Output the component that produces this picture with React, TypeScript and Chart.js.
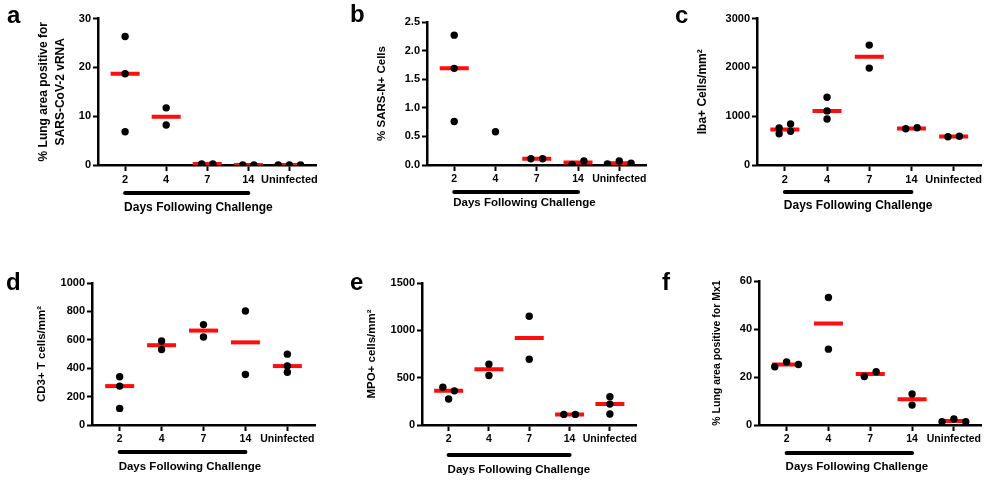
import React, { useEffect, useRef } from "react";
import { Chart, registerables } from "chart.js";

Chart.register(...registerables);

// ---------------- DATA ----------------
const CATEGORIES = ["2", "4", "7", "14", "Uninfected"];
const DAYS_LABEL = "Days Following Challenge";

// a: % lung area positive for SARS-CoV-2 vRNA
const A_VALUES = [[26.3, 18.7, 6.8], [11.7, 8.2], [0.2, 0.2], [0, 0], [0, 0, 0]];
const A_MEDIANS = [18.7, 9.9, 0.2, 0, 0];
const A_YTICKS = [0, 10, 20, 30];
const A_YLABELS = ["0", "10", "20", "30"];

// b: % SARS-N+ cells
const B_VALUES = [[2.27, 1.69, 0.76], [0.58], [0.11, 0.11], [0.01, 0.07], [0.02, 0.07, 0.03]];
const B_MEDIANS = [1.69, null, 0.11, 0.045, 0.03];
const B_YTICKS = [0, 0.5, 1.0, 1.5, 2.0, 2.5];
const B_YLABELS = ["0.0", "0.5", "1.0", "1.5", "2.0", "2.5"];

// c: Iba+ cells/mm2
const C_VALUES = [[760, 840, 640, 690], [1387, 1108, 942], [2455, 1984], [743, 763], [577, 590]];
const C_MEDIANS = [725, 1108, 2216, 750, 585];
const C_YTICKS = [0, 1000, 2000, 3000];
const C_YLABELS = ["0", "1000", "2000", "3000"];

// d: CD3+ T cells/mm2
const D_VALUES = [[340, 274, 117], [592, 532], [707, 620], [803, 356], [499, 415, 372]];
const D_MEDIANS = [274, 562, 665, 582, 415];
const D_YTICKS = [0, 200, 400, 600, 800, 1000];
const D_YLABELS = ["0", "200", "400", "600", "800", "1000"];

// e: MPO+ cells/mm2
const E_VALUES = [[400, 361, 274], [643, 523], [1149, 695], [112, 112], [299, 221, 116]];
const E_MEDIANS = [362, 590, 920, 112, 221];
const E_YTICKS = [0, 500, 1000, 1500];
const E_YLABELS = ["0", "500", "1000", "1500"];

// f: % lung area positive for Mx1
const F_VALUES = [[24.3, 26.3, 25.2], [53.1, 31.6], [20.2, 22.2], [12.9, 8.3], [1.4, 2.5, 1.4]];
const F_MEDIANS = [25.2, 42.3, 21.3, 10.7, 1.7];
const F_YTICKS = [0, 20, 40, 60];
const F_YLABELS = ["0", "20", "40", "60"];

// ---------------- LAYOUT ----------------
const X_MIN = -0.66;
const X_MAX = 4.66;
const FONT = "'Liberation Sans', Arial, Helvetica, sans-serif";
const RED = "#ff0d0d";

type Panel = {
  letter: string;
  values: number[][];
  medians: (number | null)[];
  yTicks: number[];
  yLabels: string[];
  yTitle: string | string[];
  canvas: { l: number; t: number; w: number; h: number };
  plot: { l: number; t: number; r: number; b: number };
  letterPos: [number, number];
  titleSize: number;
  titleLH: number;
  titleCenter: number;
  barOff: number;
  textOff: number;
  daysSize: number;
  xTickSize: number;
};

const PANELS: Panel[] = [
  {
    letter: "a", values: A_VALUES, medians: A_MEDIANS, yTicks: A_YTICKS, yLabels: A_YLABELS,
    yTitle: ["% Lung area positive for", "SARS-CoV-2 vRNA"],
    canvas: { l: 0, t: 0, w: 335, h: 240 }, plot: { l: 98, t: 16, r: 333, b: 165 },
    letterPos: [7, 23], titleSize: 12, titleLH: 1.35, titleCenter: 44,
    barOff: 28, textOff: 43, daysSize: 12, xTickSize: 11,
  },
  {
    letter: "b", values: B_VALUES, medians: B_MEDIANS, yTicks: B_YTICKS, yLabels: B_YLABELS,
    yTitle: "% SARS-N+ Cells",
    canvas: { l: 335, t: 0, w: 330, h: 240 }, plot: { l: 427, t: 22, r: 650, b: 165 },
    letterPos: [350, 22], titleSize: 11.5, titleLH: 1.2, titleCenter: 382,
    barOff: 27, textOff: 38, daysSize: 11.5, xTickSize: 10.5,
  },
  {
    letter: "c", values: C_VALUES, medians: C_MEDIANS, yTicks: C_YTICKS, yLabels: C_YLABELS,
    yTitle: "Iba+ Cells/mm\u00B2",
    canvas: { l: 665, t: 0, w: 335, h: 240 }, plot: { l: 757, t: 15, r: 993, b: 165 },
    letterPos: [675, 23], titleSize: 12, titleLH: 1.2, titleCenter: 703,
    barOff: 27, textOff: 41, daysSize: 12, xTickSize: 11,
  },
  {
    letter: "d", values: D_VALUES, medians: D_MEDIANS, yTicks: D_YTICKS, yLabels: D_YLABELS,
    yTitle: "CD3+ T cells/mm\u00B2",
    canvas: { l: 0, t: 240, w: 335, h: 243 }, plot: { l: 92, t: 283, r: 315, b: 425 },
    letterPos: [6, 290], titleSize: 11.5, titleLH: 1.2, titleCenter: 42,
    barOff: 27, textOff: 42, daysSize: 11.5, xTickSize: 10.5,
  },
  {
    letter: "e", values: E_VALUES, medians: E_MEDIANS, yTicks: E_YTICKS, yLabels: E_YLABELS,
    yTitle: "MPO+ cells/mm\u00B2",
    canvas: { l: 335, t: 240, w: 320, h: 243 }, plot: { l: 422, t: 283, r: 645, b: 425 },
    letterPos: [350, 290], titleSize: 11.5, titleLH: 1.2, titleCenter: 372,
    barOff: 30, textOff: 45, daysSize: 11.5, xTickSize: 10.5,
  },
  {
    letter: "f", values: F_VALUES, medians: F_MEDIANS, yTicks: F_YTICKS, yLabels: F_YLABELS,
    yTitle: "% Lung area positive for Mx1",
    canvas: { l: 655, t: 240, w: 345, h: 243 }, plot: { l: 759, t: 281, r: 984, b: 425 },
    letterPos: [662, 290], titleSize: 10.5, titleLH: 1.2, titleCenter: 717,
    barOff: 28, textOff: 42, daysSize: 11.5, xTickSize: 10.5,
  },
];

const DOT_GAP_PX = 12;
const OVERLAP_PX = 5.5;

// GraphPad-like horizontal spreading of overlapping dots (returns slot offsets)
function spread(vals: number[], thr: number): number[] {
  const idx = vals.map((_, i) => i).sort((a, b) => vals[a] - vals[b]);
  const clusters: number[][] = [];
  idx.forEach((i) => {
    const last = clusters[clusters.length - 1];
    if (last && vals[i] - vals[last[last.length - 1]] < thr) last.push(i);
    else clusters.push([i]);
  });
  const out = vals.map(() => 0);
  clusters.forEach((cl) => {
    const members = [...cl].sort((a, b) => a - b);
    const n = members.length;
    if (n === 1) return;
    if (n <= 3) members.forEach((m, k) => (out[m] = k - (n - 1) / 2));
    else members.forEach((m, k) => (out[m] = k % 2 === 0 ? -0.5 : 0.5));
  });
  return out;
}

const decorPlugin = {
  id: "decor",
  afterDraw(chart: any, _args: any, opts: any) {
    const { ctx, chartArea } = chart;
    const x = chart.scales.x;
    const x0 = x.getPixelForValue(0);
    const x1 = x.getPixelForValue(3);
    ctx.save();
    ctx.strokeStyle = "#000";
    ctx.lineWidth = 4;
    ctx.lineCap = "round";
    ctx.beginPath();
    ctx.moveTo(x0, chartArea.bottom + opts.barOff);
    ctx.lineTo(x1, chartArea.bottom + opts.barOff);
    ctx.stroke();
    ctx.fillStyle = "#000";
    ctx.textAlign = "left";
    ctx.textBaseline = "middle";
    ctx.font = `bold ${opts.daysSize}px ${FONT}`;
    ctx.fillText(DAYS_LABEL, x0 - 1, chartArea.bottom + opts.textOff);
    ctx.textBaseline = "alphabetic";
    ctx.font = `bold 24px ${FONT}`;
    ctx.fillText(opts.letter, opts.lx, opts.ly);
    ctx.restore();
  },
};

function PanelChart({ p }: { p: Panel }) {
  const ref = useRef<HTMLCanvasElement>(null);
  useEffect(() => {
    const cv = ref.current;
    if (!cv) return;
    const plotW = p.plot.r - p.plot.l;
    const plotH = p.plot.b - p.plot.t;
    const pxPerCat = plotW / (X_MAX - X_MIN);
    const yMin = p.yTicks[0];
    const yMax = p.yTicks[p.yTicks.length - 1];
    const thr = (OVERLAP_PX * (yMax - yMin)) / plotH;
    const dots: { x: number; y: number }[] = [];
    p.values.forEach((vals, gi) => {
      const offs = spread(vals, thr);
      vals.forEach((v, k) => dots.push({ x: gi + (offs[k] * DOT_GAP_PX) / pxPerCat, y: v }));
    });
    const meds: { x: number; y: number }[] = [];
    p.medians.forEach((m, gi) => {
      if (m !== null) meds.push({ x: gi, y: m });
    });
    const yAxisW = p.plot.l - p.canvas.l;
    const xAxisH = p.canvas.t + p.canvas.h - p.plot.b;
    const lineH = p.titleSize * p.titleLH;
    const titlePad = p.titleCenter - p.canvas.l - lineH / 2;

    const chart = new Chart(cv, {
      type: "scatter",
      data: {
        datasets: [
          {
            data: dots,
            pointRadius: 3.7,
            pointHoverRadius: 3.7,
            backgroundColor: "#000",
            borderColor: "#000",
            borderWidth: 0,
            order: 0,
          },
          {
            data: meds,
            pointStyle: "line",
            pointRadius: 14.5,
            pointHoverRadius: 14.5,
            backgroundColor: RED,
            borderColor: RED,
            borderWidth: 4,
            order: 1,
          },
        ],
      },
      options: {
        animation: false,
        responsive: false,
        maintainAspectRatio: false,
        events: [],
        layout: {
          padding: { left: 0, top: p.plot.t - p.canvas.t, right: p.canvas.l + p.canvas.w - p.plot.r, bottom: 0 },
        },
        plugins: {
          legend: { display: false },
          tooltip: { enabled: false },
          decor: {
            barOff: p.barOff,
            textOff: p.textOff,
            daysSize: p.daysSize,
            letter: p.letter,
            lx: p.letterPos[0] - p.canvas.l,
            ly: p.letterPos[1] - p.canvas.t,
          },
        } as any,
        scales: {
          x: {
            type: "linear",
            min: X_MIN,
            max: X_MAX,
            grid: { drawOnChartArea: false, drawTicks: true, tickLength: 6, tickWidth: 2, tickColor: "#000", color: "#000" },
            border: { display: true, color: "#000", width: 2.5 },
            ticks: {
              color: "#000",
              font: { family: FONT, size: p.xTickSize, weight: "bold" },
              padding: 2,
              autoSkip: false,
              maxRotation: 0,
              minRotation: 0,
              callback: (v: any) => CATEGORIES[v as number] ?? "",
            },
            afterBuildTicks: (s: any) => {
              s.ticks = CATEGORIES.map((_, i) => ({ value: i }));
            },
            afterFit: (s: any) => {
              s.height = xAxisH;
              s.paddingLeft = 0;
              s.paddingRight = 0;
            },
          },
          y: {
            type: "linear",
            min: yMin,
            max: yMax,
            grid: { drawOnChartArea: false, drawTicks: true, tickLength: 5, tickWidth: 2, tickColor: "#000", color: "#000" },
            border: { display: true, color: "#000", width: 2.5 },
            ticks: {
              color: "#000",
              font: { family: FONT, size: 11, weight: "bold" },
              padding: 2,
              callback: (v: any) => {
                const i = p.yTicks.indexOf(v as number);
                return i >= 0 ? p.yLabels[i] : "";
              },
            },
            afterBuildTicks: (s: any) => {
              s.ticks = p.yTicks.map((v) => ({ value: v }));
            },
            afterFit: (s: any) => {
              s.width = yAxisW;
              s.paddingTop = 0;
              s.paddingBottom = 0;
            },
            title: {
              display: true,
              text: p.yTitle,
              color: "#000",
              font: { family: FONT, size: p.titleSize, weight: "bold", lineHeight: p.titleLH },
              padding: { top: titlePad, bottom: 0 },
            },
          },
        },
      },
      plugins: [decorPlugin],
    } as any);
    return () => chart.destroy();
  }, [p]);

  return (
    <canvas
      ref={ref}
      width={p.canvas.w}
      height={p.canvas.h}
      style={{
        position: "absolute",
        left: p.canvas.l,
        top: p.canvas.t,
        width: p.canvas.w,
        height: p.canvas.h,
      }}
    />
  );
}

export default function App() {
  return (
    <div
      style={{
        position: "absolute",
        left: 0,
        top: 0,
        width: 1000,
        height: 483,
        background: "#fff",
        overflow: "hidden",
      }}
    >
      {PANELS.map((p) => (
        <PanelChart key={p.letter} p={p} />
      ))}
    </div>
  );
}
